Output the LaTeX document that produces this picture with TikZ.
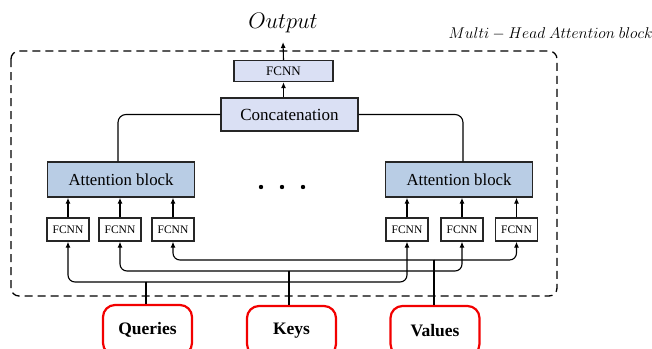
\documentclass[tikz,border=0pt]{standalone}
\usepackage{fix-cm}
\usepackage{fontspec}
\setmainfont{Liberation Serif}
\usetikzlibrary{arrows.meta}
\definecolor{lavender}{HTML}{DAE0F4}
\definecolor{steel}{HTML}{B9CDE5}
\definecolor{boxline}{HTML}{262626}
\definecolor{inred}{HTML}{F20000}
\tikzset{
  arr/.style={-{Latex[length=6pt,width=5pt]}},
  blockbox/.style={draw=boxline, line width=1.4pt, inner sep=0pt},
  topfc/.style={blockbox, fill=lavender, minimum width=99pt, minimum height=21pt, font=\fontsize{13}{15}\selectfont},
  concatbox/.style={blockbox, fill=lavender, minimum width=137pt, minimum height=33pt, font=\fontsize{17}{20}\selectfont},
  attbox/.style={blockbox, fill=steel, minimum width=147pt, minimum height=35pt, font=\fontsize{16.8}{20}\selectfont},
  smallfc/.style={blockbox, line width=1.3pt, fill=white, minimum width=42pt, minimum height=23pt, font=\fontsize{11.5}{13}\selectfont},
  inbox/.style={draw=inred, line width=2.2pt, rounded corners=12pt, minimum width=89pt, minimum height=50pt, inner sep=0pt, font=\fontsize{17.5}{20}\selectfont\bfseries},
  bus/.style={arr, rounded corners=7pt},
}
\begin{document}
\begin{tikzpicture}[x=1pt, y=-1pt, line width=1.1pt]
\useasboundingbox (0,0) rectangle (652,348);
\clip (0,0) rectangle (652,348);

% outer dashed frame of the multi-head block
\draw[dashed, dash pattern=on 8pt off 5pt, line width=1.3pt, rounded corners=8pt] (11,51) rectangle (557,296);
\node[anchor=base west, inner sep=0pt] (mhlabel) at (448,38) {\fontsize{15.6}{18}\selectfont $Multi-Head\ Attention\ block$};

% output side
\node[anchor=base, inner sep=0pt] (out) at (283,28.5) {\fontsize{22.5}{26}\selectfont $Output$};
\coordinate (outtip) at (283,42);
\node[topfc] (fctop) at (283.5,71) {FCNN};
\node[concatbox] (concat) at (289.5,114.5) {Concatenation};
\draw[arr] (fctop.north) -- (outtip);
\draw[arr] (fctop.south |- concat.north) -- (fctop.south);

% attention heads
\node[attbox] (attL) at (121,179.5) {Attention block};
\node[attbox] (attR) at (459,179.5) {Attention block};
\draw[rounded corners=8pt] (concat.west) -| ([xshift=-3pt]attL.north);
\draw[rounded corners=8pt] (concat.east) -| ([xshift=4pt]attR.north);

% ellipsis between heads
\foreach \i/\xx in {1/261,2/282,3/303}
  \fill (\xx,187) circle (2.2pt);

% per-head projections
\node[smallfc] (fL1) at (68,229.5) {FCNN};
\node[smallfc] (fL2) at (120,229.5) {FCNN};
\node[smallfc] (fL3) at (173,229.5) {FCNN};
\node[smallfc] (fR1) at (407,229.5) {FCNN};
\node[smallfc] (fR2) at (462,229.5) {FCNN};
\node[smallfc] (fR3) at (516.5,229.5) {FCNN};
\foreach \n/\a in {fL1/attL,fL2/attL,fL3/attL,fR1/attR,fR2/attR,fR3/attR}
  \draw[arr] (\n.north) -- (\n.north |- \a.south);

% inputs
\node[inbox] (q) at (147.5,330) {Queries};
\node[inbox] (k) at (291.5,331) {Keys};
\node[inbox] (v) at (435,331) {Values};

% input buses
\coordinate (qy) at (0,282);
\coordinate (ky) at (0,271);
\coordinate (vy) at (0,260);
\coordinate (qbus) at ([xshift=-1.5pt]q.north |- qy);
\coordinate (kbus) at ([xshift=-2.5pt]k.north |- ky);
\coordinate (vbus) at ([xshift=-1pt]v.north |- vy);
\draw (qbus) -- (qbus |- q.north);
\draw (kbus) -- (kbus |- k.north);
\draw (vbus) -- (vbus |- v.north);
\draw[bus] (qbus) -| (fL1.south);
\draw[bus] (qbus) -| (fR1.south);
\draw[bus] (kbus) -| (fL2.south);
\draw[bus] (kbus) -| (fR2.south);
\draw[bus] (vbus) -| (fL3.south);
\draw[bus] (vbus) -| (fR3.south);
\end{tikzpicture}
\end{document}
